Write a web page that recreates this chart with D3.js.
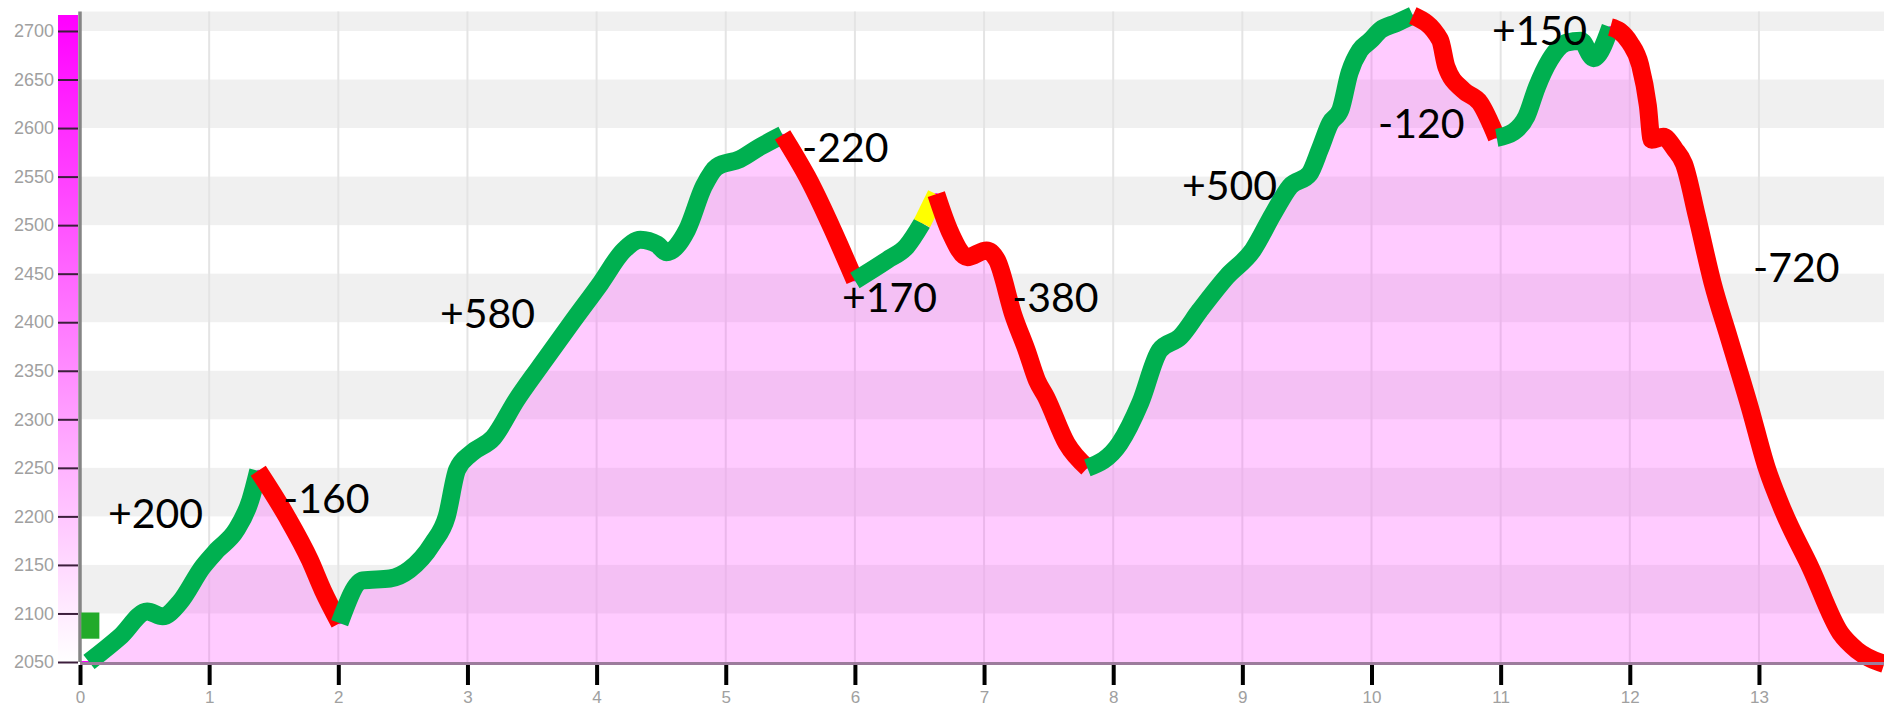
<!DOCTYPE html>
<html><head><meta charset="utf-8">
<script src="https://cdn.jsdelivr.net/npm/d3@7"></script>
<style>html,body{margin:0;padding:0;background:#fff;overflow:hidden}</style>
</head><body>
<svg id="c" width="1884" height="707"></svg>
<script>
// distance (km) and altitude (m) of the profile
const km  = [0.07,0.31,0.52,0.64,0.77,0.95,1.06,1.21,1.32,1.38,
             1.60,1.78,1.88,2.01,
             2.19,2.40,2.55,2.73,2.84,2.92,3.03,3.20,3.38,3.56,3.82,4.03,4.21,4.34,4.47,4.54,4.70,4.83,4.93,5.11,5.27,5.44,
             5.63,6.00,
             6.25,6.40,6.52,6.63,
             6.74,6.87,7.02,7.10,7.23,7.33,7.41,7.48,7.64,7.80,
             8.05,8.21,8.36,8.52,8.67,8.88,9.08,9.24,9.37,9.52,9.60,9.68,9.76,9.83,9.91,9.99,10.07,10.19,10.32,
             10.53,10.58,10.71,10.84,10.97,
             11.10,11.20,11.28,11.38,11.51,11.62,11.72,11.85,
             11.92,12.00,12.08,12.14,12.17,12.26,12.35,12.42,12.52,12.64,12.77,12.93,13.06,13.19,13.40,13.63,13.76,13.97];
const alt = [2050,2076,2102,2097,2111,2148,2165,2186,2217,2247,
             2200,2155,2124,2090,
             2134,2136,2145,2172,2200,2248,2265,2281,2320,2354,2402,2440,2474,2485,2480,2472,2495,2540,2560,2568,2581,2593,
             2550,2443,
             2464,2478,2502,2532,
             2492,2467,2474,2464,2406,2371,2340,2323,2275,2250,
             2275,2317,2371,2385,2412,2447,2474,2512,2540,2553,2578,2605,2619,2657,2680,2690,2701,2708,2716,
             2691,2663,2639,2626,2590,
             2596,2612,2642,2670,2688,2690,2672,2704,
             2700,2688,2665,2623,2588,2591,2578,2563,2509,2441,2383,2312,2250,2205,2147,2080,2062,2048];

// climb / descent segments: start km and colour
const segStartKm = [0.07, 1.38, 2.01, 5.44, 6.00, 6.52, 6.63, 7.80, 10.32, 10.97, 11.85];
const segColor   = ['#00b050','#ff0000','#00b050','#ff0000','#00b050','#ffff00','#ff0000','#00b050','#ff0000','#00b050','#ff0000'];

// gain labels
const labelText = ['+200','-160','+580','-220','+170','-380','+500','-120','+150','-720'];
const labelKm   = [0.217, 1.572, 2.787, 5.59, 5.90, 7.216, 8.533, 10.05, 10.933, 12.954];
const labelAlt  = [2188, 2203.5, 2394, 2565, 2410.5, 2410.5, 2526, 2590, 2685.5, 2441];

// start marker
const startKm  = [0.01, 0.15];
const startAlt = [2074, 2101];

const xTicks = d3.range(0, 14);
const yTicks = d3.range(2050, 2701, 50);

const svg = d3.select('#c');
const x = d3.scaleLinear().domain([0, 14]).range([80, 80 + 14 * 129.15]);
const y = d3.scaleLinear().domain([2050, 2720]).range([662, 662 - 670 * 0.9708]);
const yTop = y(2720);

// bands
const bands = d3.range(2100, 2720, 100);
svg.append('g').selectAll('rect').data(bands).join('rect')
  .attr('x', 80).attr('width', 1884 - 80)
  .attr('y', d => y(Math.min(d + 50, 2720)))
  .attr('height', d => y(d) - y(Math.min(d + 50, 2720)))
  .attr('fill', '#f0f0f0');

// vertical grid
svg.append('g').selectAll('line').data(xTicks.filter(d => d > 0)).join('line')
  .attr('x1', d => x(d)).attr('x2', d => x(d))
  .attr('y1', yTop).attr('y2', y(2050))
  .attr('stroke', '#e4e4e4').attr('stroke-width', 2);

const pts = [[0, 2050]].concat(km.map((k, i) => [k, alt[i]]));
const curve = d3.curveMonotoneX;

// area
svg.append('path').datum(pts)
  .attr('d', d3.area().x(d => x(d[0])).y0(y(2050)).y1(d => y(d[1])).curve(curve))
  .attr('fill', '#ff40ff').attr('fill-opacity', 0.27);

// thin raw profile line
svg.append('path').datum(pts)
  .attr('d', d3.line().x(d => x(d[0])).y(d => y(d[1])).curve(curve))
  .attr('fill', 'none').attr('stroke', '#ff00ff').attr('stroke-width', 2);

// thick coloured segments
const line = d3.line().x(d => x(d[0])).y(d => y(d[1])).curve(curve);
segStartKm.forEach((s, i) => {
  const e = i < segStartKm.length - 1 ? segStartKm[i + 1] : 99;
  const seg = pts.filter(p => p[0] >= s - 1e-9 && p[0] <= e + 1e-9);
  svg.append('path').datum(seg)
    .attr('d', line)
    .attr('fill', 'none').attr('stroke', segColor[i])
    .attr('stroke-width', 18).attr('stroke-linecap', 'butt').attr('stroke-linejoin', 'round');
});

// x-axis base line
svg.append('line').attr('x1', 80).attr('x2', 1884).attr('y1', y(2050) + 1.5).attr('y2', y(2050) + 1.5)
  .attr('stroke', '#9c7c9c').attr('stroke-width', 3);

// colour bar
const defs = svg.append('defs');
const grad = defs.append('linearGradient').attr('id', 'cb').attr('x1', 0).attr('x2', 0).attr('y1', 0).attr('y2', 1);
grad.append('stop').attr('offset', '0%').attr('stop-color', '#ff00ff');
grad.append('stop').attr('offset', '100%').attr('stop-color', '#ffffff');
svg.append('rect').attr('x', 58).attr('width', 20).attr('y', 15).attr('height', y(2050) - 15).attr('fill', 'url(#cb)');

// y axis line
svg.append('line').attr('x1', 80).attr('x2', 80).attr('y1', yTop).attr('y2', y(2050))
  .attr('stroke', '#858585').attr('stroke-width', 3.5);

// start marker
svg.append('rect')
  .attr('x', x(startKm[0])).attr('width', x(startKm[1]) - x(startKm[0]))
  .attr('y', y(startAlt[1])).attr('height', y(startAlt[0]) - y(startAlt[1]))
  .attr('fill', '#22aa2a');

// y axis ticks
const ya = svg.append('g').attr('transform', 'translate(78,0)')
  .call(d3.axisLeft(y).tickValues(yTicks).tickSize(20).tickPadding(4).tickFormat(d3.format('d')));
ya.select('.domain').remove();
ya.selectAll('line').attr('stroke', '#3c1e3c').attr('stroke-width', 2);
ya.selectAll('text').attr('fill', '#a0a0a0').style('font', '18px "Liberation Sans", Arial, sans-serif');

// x axis ticks
const xa = svg.append('g').attr('transform', 'translate(0,665)')
  .call(d3.axisBottom(x).tickValues(xTicks).tickSize(20).tickPadding(6).tickFormat(d3.format('d')));
xa.select('.domain').remove();
xa.selectAll('line').attr('stroke', '#000').attr('stroke-width', 4);
xa.selectAll('text').attr('fill', '#a0a0a0').style('font', '17px "Liberation Sans", Arial, sans-serif');

// labels
svg.append('g').selectAll('text').data(labelText).join('text')
  .attr('x', (d, i) => x(labelKm[i])).attr('y', (d, i) => y(labelAlt[i]))
  .attr('fill', '#000')
  .style('font', '41px Lato, "Open Sans", sans-serif')
  .text(d => d);
</script>
</body></html>
